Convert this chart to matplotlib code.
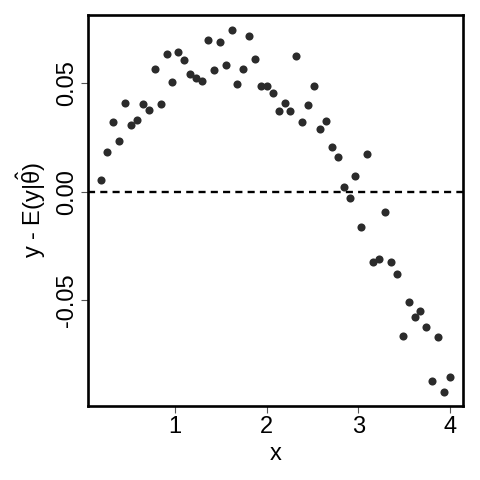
import matplotlib
matplotlib.use('Agg')
import matplotlib.pyplot as plt

plt.rcParams['font.family'] = ['Liberation Sans', 'DejaVu Sans']
plt.rcParams['mathtext.fontset'] = 'custom'
plt.rcParams['mathtext.rm'] = 'Liberation Sans'
plt.rcParams['mathtext.it'] = 'Liberation Sans'
plt.rcParams['mathtext.default'] = 'regular'

# values
X = [0.196, 0.261, 0.327, 0.392, 0.458, 0.520, 0.585, 0.651, 0.713, 0.779,
     0.844, 0.909, 0.971, 1.036, 1.101, 1.164, 1.229, 1.295, 1.357, 1.422,
     1.488, 1.553, 1.619, 1.680, 1.745, 1.807, 1.873, 1.938, 2.004, 2.069,
     2.135, 2.197, 2.258, 2.323, 2.389, 2.454, 2.516, 2.582, 2.647, 2.709,
     2.775, 2.840, 2.906, 2.967, 3.032, 3.098, 3.163, 3.225, 3.291, 3.356,
     3.418, 3.484, 3.549, 3.614, 3.676, 3.741, 3.807, 3.872, 3.935, 4.000]
RESID = [0.0054, 0.0185, 0.0323, 0.0233, 0.0408, 0.0308, 0.0331, 0.0403, 0.0376, 0.0565,
         0.0403, 0.0634, 0.0508, 0.0645, 0.0609, 0.0542, 0.0523, 0.0509, 0.0699, 0.0560,
         0.0691, 0.0586, 0.0746, 0.0498, 0.0565, 0.0717, 0.0611, 0.0488, 0.0488, 0.0455,
         0.0371, 0.0411, 0.0371, 0.0626, 0.0323, 0.0399, 0.0489, 0.0288, 0.0328, 0.0206,
         0.0159, 0.0022, -0.0030, 0.0074, -0.0162, 0.0173, -0.0324, -0.0312, -0.0094, -0.0323,
         -0.0380, -0.0665, -0.0510, -0.0577, -0.0549, -0.0623, -0.0874, -0.0669, -0.0923, -0.0854]

XTICKS = [1, 2, 3, 4]
YTICKS = [-0.05, 0.00, 0.05]
YTICKLABELS = ['-0.05', '0.00', '0.05']

fig = plt.figure(figsize=(4.8, 4.8), dpi=100)
ax = fig.add_axes([0.1827, 0.1542, 0.7825, 0.8146])

ax.scatter(X, RESID, s=34, color='#2b2b2b', linewidths=0, zorder=3)
ax.axhline(0, color='black', lw=1.7, dashes=(3.0, 2.2), zorder=2)

ax.set_xlim(0.0476, 4.145)
ax.set_ylim(-0.0989, 0.0815)
ax.set_xticks(XTICKS)
ax.set_yticks(YTICKS)
ax.set_yticklabels(YTICKLABELS, rotation=90, va='center')
ax.tick_params(labelsize=17, length=5, width=0.8, color='#555555', pad=2)

for sp in ax.spines.values():
    sp.set_linewidth(1.9)

ax.set_xlabel('x', fontsize=17, labelpad=4)
ax.set_ylabel(r'y - E(y|$\hat{\theta}$)', fontsize=17, labelpad=6)

fig.savefig('out.png', dpi=100)
